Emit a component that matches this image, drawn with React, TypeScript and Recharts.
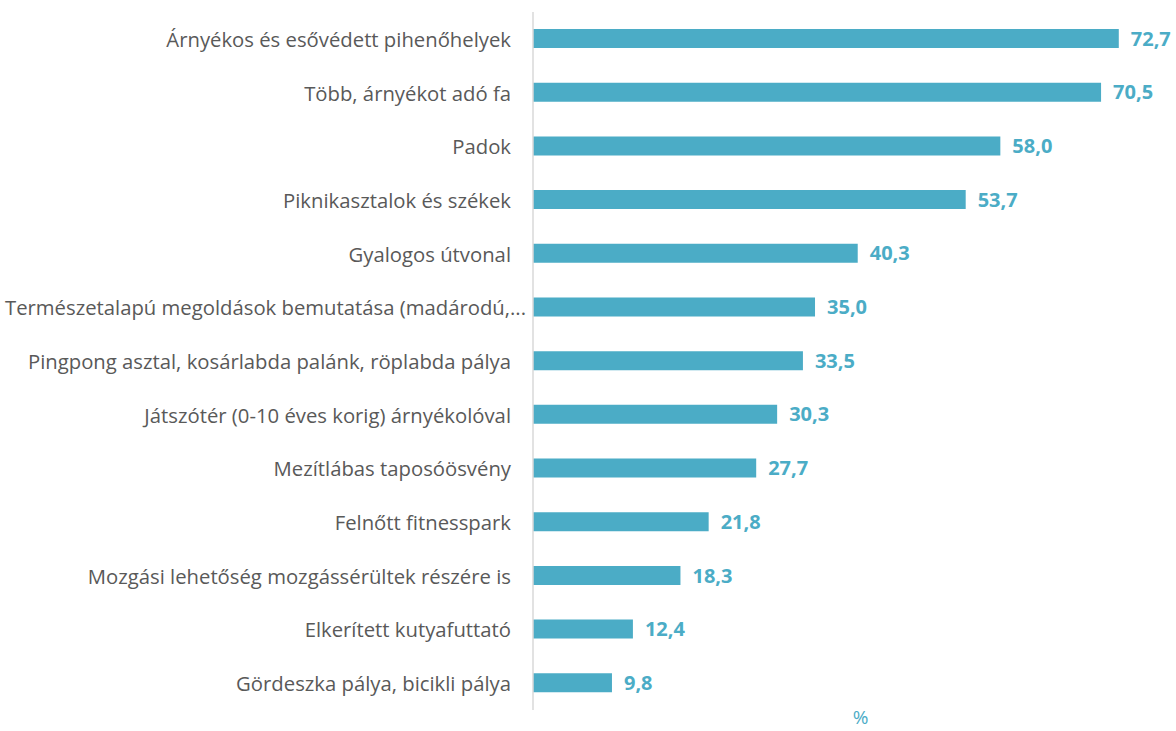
import React from "react";
import { BarChart, Bar, XAxis, YAxis, LabelList } from "recharts";

const categories = [
  "Árnyékos és esővédett pihenőhelyek",
  "Több, árnyékot adó fa",
  "Padok",
  "Piknikasztalok és székek",
  "Gyalogos útvonal",
  "Természetalapú megoldások bemutatása (madárodú,...",
  "Pingpong asztal, kosárlabda palánk, röplabda pálya",
  "Játszótér (0-10 éves korig) árnyékolóval",
  "Mezítlábas taposóösvény",
  "Felnőtt fitnesspark",
  "Mozgási lehetőség mozgássérültek részére is",
  "Elkerített kutyafuttató",
  "Gördeszka pálya, bicikli pálya",
];

const values = [72.7, 70.5, 58.0, 53.7, 40.3, 35.0, 33.5, 30.3, 27.7, 21.8, 18.3, 12.4, 9.8];

const data = categories.map((name, i) => ({ name, value: values[i] }));

const BLUE = "#4BACC6";
const FONT = "Open Sans";

// truncated label sits a bit closer to the axis, like in the original
const CategoryTick = (props: any) => {
  const { x, y, payload } = props;
  const shift = payload.value.endsWith("...") ? 15 : 0;
  return (
    <text
      x={x + shift}
      y={y}
      textAnchor="end"
      dominantBaseline="central"
      fill="#595959"
      fontSize={20.3}
      fontFamily={FONT}
    >
      {payload.value}
    </text>
  );
};

const App = () => {
  return (
    <div style={{ position: "absolute", left: 0, top: 0 }}>
      <BarChart
        width={1176}
        height={731}
        data={data}
        layout="vertical"
        margin={{ top: 12, right: 0, bottom: 0, left: 0 }}
      >
        <XAxis
          type="number"
          domain={[0, 79.8]}
          tick={false}
          axisLine={false}
          tickLine={false}
          height={21}
          label={{
            value: "%",
            position: "insideTop",
            offset: 1,
            dx: 6,
            fill: BLUE,
            fontSize: 19,
            fontFamily: FONT,
          }}
        />
        <YAxis
          type="category"
          dataKey="name"
          width={533}
          axisLine={{ stroke: "#d9d9d9", strokeWidth: 1.5 }}
          tickLine={false}
          tickMargin={16}
          interval={0}
          tick={<CategoryTick />}
        />
        <Bar dataKey="value" fill={BLUE} barSize={19} isAnimationActive={false}>
          <LabelList
            dataKey="value"
            position="right"
            offset={12}
            formatter={(v: number) => v.toFixed(1).replace(".", ",")}
            style={{ fill: BLUE, fontSize: 20, fontWeight: 700, fontFamily: FONT }}
          />
        </Bar>
      </BarChart>
    </div>
  );
};

export default App;
